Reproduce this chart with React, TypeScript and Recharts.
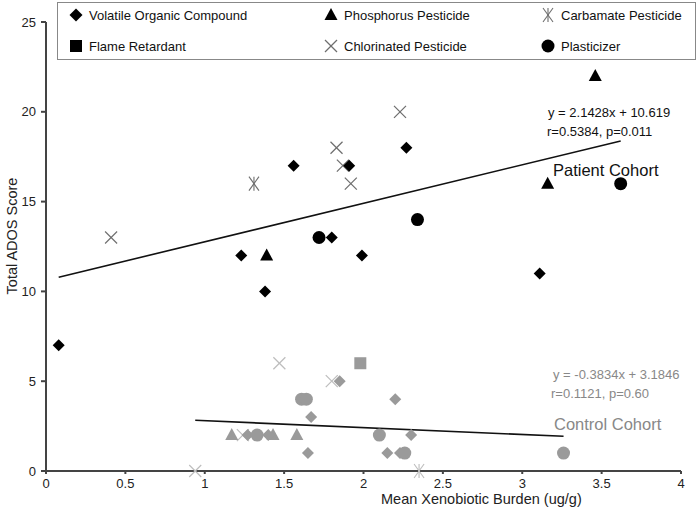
import { ScatterChart, Scatter, XAxis, YAxis, ReferenceLine } from 'recharts'

// patient cohort (black markers)
const patientVOC = [
  { x: 0.08, y: 7 }, { x: 1.23, y: 12 }, { x: 1.38, y: 10 }, { x: 1.56, y: 17 }, { x: 1.8, y: 13 },
  { x: 1.91, y: 17 }, { x: 1.99, y: 12 }, { x: 2.27, y: 18 }, { x: 3.11, y: 11 },
]
const patientPhos = [{ x: 1.39, y: 12 }, { x: 3.16, y: 16 }, { x: 3.46, y: 22 }]
const patientPlast = [{ x: 1.72, y: 13 }, { x: 2.34, y: 14 }, { x: 3.62, y: 16 }]
const patientChlor = [{ x: 0.41, y: 13 }, { x: 1.83, y: 18 }, { x: 1.87, y: 17 }, { x: 1.92, y: 16 }, { x: 2.23, y: 20 }]
const patientCarb = [{ x: 1.31, y: 16 }]

// control cohort (gray markers)
const controlVOC = [
  { x: 1.85, y: 5 }, { x: 2.2, y: 4 }, { x: 1.67, y: 3 }, { x: 1.27, y: 2 }, { x: 1.4, y: 2 },
  { x: 2.3, y: 2 }, { x: 1.65, y: 1 }, { x: 2.15, y: 1 }, { x: 2.23, y: 1 },
]
const controlPhos = [{ x: 1.17, y: 2 }, { x: 1.43, y: 2 }, { x: 1.58, y: 2 }]
const controlPlast = [{ x: 1.61, y: 4 }, { x: 1.64, y: 4 }, { x: 1.33, y: 2 }, { x: 2.1, y: 2 }, { x: 2.26, y: 1 }, { x: 3.26, y: 1 }]
const controlChlor = [{ x: 1.47, y: 6 }, { x: 1.8, y: 5 }, { x: 1.24, y: 2 }, { x: 0.94, y: 0 }]
const controlCarb = [{ x: 2.35, y: 0 }]
const controlFlame = [{ x: 1.98, y: 6 }]

// fitted lines: slope, intercept, x range
const patientFit = { slope: 2.1428, intercept: 10.619, x0: 0.08, x1: 3.62 }
const controlFit = { slope: -0.3834, intercept: 3.1846, x0: 0.94, x1: 3.26 }

const xTicks = [0, 0.5, 1, 1.5, 2, 2.5, 3, 3.5, 4]
const yTicks = [0, 5, 10, 15, 20, 25]

const FONT = '"Liberation Sans", Arial, Helvetica, sans-serif'
const BLACK = '#000'
const GRAY = '#9a9a9a'
const LIGHT = '#bdbdbd'
const DARKX = '#6e6e6e'

const diamond = (color: string, r = 6) => (p: any) => (
  <polygon points={`${p.cx},${p.cy - r} ${p.cx + r},${p.cy} ${p.cx},${p.cy + r} ${p.cx - r},${p.cy}`} fill={color} />
)
const triangle = (color: string) => (p: any) => (
  <polygon points={`${p.cx},${p.cy - 7} ${p.cx + 6.5},${p.cy + 5} ${p.cx - 6.5},${p.cy + 5}`} fill={color} />
)
const circle = (color: string) => (p: any) => <circle cx={p.cx} cy={p.cy} r={6.5} fill={color} />
const square = (color: string) => (p: any) => <rect x={p.cx - 6} y={p.cy - 6} width={12} height={12} fill={color} />
const cross = (color: string) => (p: any) => (
  <g stroke={color} strokeWidth={1.2}>
    <line x1={p.cx - 6} y1={p.cy - 6} x2={p.cx + 6} y2={p.cy + 6} />
    <line x1={p.cx - 6} y1={p.cy + 6} x2={p.cx + 6} y2={p.cy - 6} />
  </g>
)
const carb = (color: string) => (p: any) => (
  <g stroke={color} strokeWidth={1.1}>
    <line x1={p.cx - 5} y1={p.cy - 7} x2={p.cx + 5} y2={p.cy + 7} />
    <line x1={p.cx - 5} y1={p.cy + 7} x2={p.cx + 5} y2={p.cy - 7} />
    <line x1={p.cx} y1={p.cy - 7} x2={p.cx} y2={p.cy + 7} />
  </g>
)

function fitSegment(f: { slope: number; intercept: number; x0: number; x1: number }) {
  return [
    { x: f.x0, y: f.slope * f.x0 + f.intercept },
    { x: f.x1, y: f.slope * f.x1 + f.intercept },
  ]
}

const legendItems = [
  { label: 'Volatile Organic Compound', shape: diamond(BLACK, 6.5), left: 0, top: 0 },
  { label: 'Phosphorus Pesticide', shape: triangle(BLACK), left: 255, top: 0 },
  { label: 'Carbamate Pesticide', shape: carb(DARKX), left: 472, top: 0 },
  { label: 'Flame Retardant', shape: square(BLACK), left: 0, top: 31 },
  { label: 'Chlorinated Pesticide', shape: cross(DARKX), left: 255, top: 31 },
  { label: 'Plasticizer', shape: circle(BLACK), left: 472, top: 31 },
]

function Txt({ x, y, size, color, children, rotate }: any) {
  return (
    <div
      style={{
        position: 'absolute', left: x, top: y, fontSize: size, color, fontFamily: FONT, whiteSpace: 'nowrap',
        lineHeight: 1, transform: rotate ? 'translate(-50%,-50%) rotate(-90deg)' : 'translateY(-50%)',
      }}
    >
      {children}
    </div>
  )
}

export default function App() {
  const tick = { fill: '#222', fontSize: 13, fontFamily: FONT }
  return (
    <div style={{ position: 'absolute', left: 0, top: 0, width: 700, height: 522, background: '#fff' }}>
      <ScatterChart width={700} height={522} margin={{ top: 22, right: 19, bottom: 0, left: 6 }}>
        <XAxis
          type="number" dataKey="x" domain={[0, 4]} ticks={xTicks} height={51}
          stroke="#444" strokeWidth={2} tickSize={3} tickMargin={5} tick={tick} interval={0}
        />
        <YAxis
          type="number" dataKey="y" domain={[0, 25]} ticks={yTicks} width={40}
          stroke="#444" strokeWidth={2} tickSize={5} tickMargin={5} tick={tick} interval={0}
        />
        <ReferenceLine segment={fitSegment(patientFit)} stroke="#111" strokeWidth={1.6} />
        <ReferenceLine segment={fitSegment(controlFit)} stroke="#111" strokeWidth={1.6} />
        <Scatter data={controlChlor} shape={cross(LIGHT)} isAnimationActive={false} />
        <Scatter data={controlCarb} shape={carb(LIGHT)} isAnimationActive={false} />
        <Scatter data={controlFlame} shape={square(GRAY)} isAnimationActive={false} />
        <Scatter data={controlPhos} shape={triangle(GRAY)} isAnimationActive={false} />
        <Scatter data={controlVOC} shape={diamond(GRAY)} isAnimationActive={false} />
        <Scatter data={controlPlast} shape={circle(GRAY)} isAnimationActive={false} />
        <Scatter data={patientChlor} shape={cross(DARKX)} isAnimationActive={false} />
        <Scatter data={patientCarb} shape={carb(DARKX)} isAnimationActive={false} />
        <Scatter data={patientPhos} shape={triangle(BLACK)} isAnimationActive={false} />
        <Scatter data={patientVOC} shape={diamond(BLACK)} isAnimationActive={false} />
        <Scatter data={patientPlast} shape={circle(BLACK)} isAnimationActive={false} />
      </ScatterChart>

      <div style={{ position: 'absolute', left: 57, top: 2, width: 639, height: 58, border: '1px solid #888', background: '#fff', boxSizing: 'border-box' }}>
        {legendItems.map((it) => (
          <div key={it.label} style={{ position: 'absolute', left: it.left + 8, top: it.top + 2, height: 20, display: 'flex', alignItems: 'center' }}>
            <svg width={20} height={20} style={{ marginRight: 3 }}>
              {it.shape({ cx: 10, cy: 10 })}
            </svg>
            <span style={{ fontFamily: FONT, fontSize: 13, color: '#111' }}>{it.label}</span>
          </div>
        ))}
      </div>

      <Txt x={548} y={112} size={13} color="#111">y = 2.1428x + 10.619</Txt>
      <Txt x={547} y={131} size={13} color="#111">r=0.5384, p=0.011</Txt>
      <Txt x={553} y={170} size={16.5} color="#111">Patient Cohort</Txt>
      <Txt x={553} y={374} size={13} color="#888">y = -0.3834x + 3.1846</Txt>
      <Txt x={551} y={393} size={13} color="#888">r=0.1121, p=0.60</Txt>
      <Txt x={554} y={424} size={16.5} color="#888">Control Cohort</Txt>
      <Txt x={381} y={499} size={14.5} color="#222">Mean Xenobiotic Burden (ug/g)</Txt>
      <Txt x={12} y={236} size={14.5} color="#222" rotate>Total ADOS Score</Txt>
    </div>
  )
}
